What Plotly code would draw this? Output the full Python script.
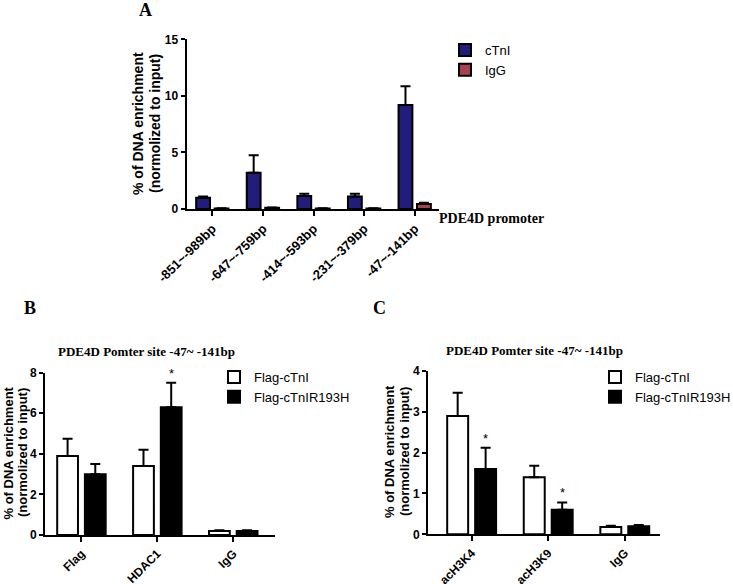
import plotly.graph_objects as go

# ---- data ----
sites_a = ["-851~-989bp", "-647~-759bp", "-414~-593bp", "-231~-379bp", "-47~-141bp"]
ctni_a = [1.0, 3.2, 1.15, 1.1, 9.2]
ctni_a_err = [0.1, 1.55, 0.2, 0.25, 1.65]
igg_a = [0.05, 0.1, 0.05, 0.05, 0.45]
igg_a_err = [0.02, 0.03, 0.02, 0.02, 0.1]

cats_b = ["Flag", "HDAC1", "IgG"]
wt_b = [3.9, 3.4, 0.2]
wt_b_err = [0.85, 0.8, 0.04]
mut_b = [3.0, 6.3, 0.2]
mut_b_err = [0.5, 1.2, 0.04]

cats_c = ["acH3K4", "acH3K9", "IgG"]
wt_c = [2.9, 1.4, 0.18]
wt_c_err = [0.57, 0.28, 0.03]
mut_c = [1.6, 0.6, 0.2]
mut_c_err = [0.52, 0.18, 0.03]

NAVY = "#221d7a"
RED = "#a9424f"
W, H = 733, 584

def px_x(p):
    return p / W

def px_y(p):
    return 1 - p / H

fig = go.Figure()

def eb(err):
    return dict(type="data", symmetric=False, array=err, arrayminus=[0] * len(err),
                color="black", thickness=2, width=5)

line = dict(color="black", width=2)

fig.add_trace(go.Bar(x=sites_a, y=ctni_a, name="cTnI", marker=dict(color=NAVY, line=line),
                     error_y=eb(ctni_a_err), xaxis="x", yaxis="y", legend="legend"))
fig.add_trace(go.Bar(x=sites_a, y=igg_a, name="IgG", marker=dict(color=RED, line=line),
                     error_y=eb(igg_a_err), xaxis="x", yaxis="y", legend="legend"))

fig.add_trace(go.Bar(x=cats_b, y=wt_b, name="Flag-cTnI", marker=dict(color="white", line=line),
                     error_y=eb(wt_b_err), xaxis="x2", yaxis="y2", legend="legend2"))
fig.add_trace(go.Bar(x=cats_b, y=mut_b, name="Flag-cTnIR193H", marker=dict(color="black", line=line),
                     error_y=eb(mut_b_err), xaxis="x2", yaxis="y2", legend="legend2"))

fig.add_trace(go.Bar(x=cats_c, y=wt_c, name="Flag-cTnI", marker=dict(color="white", line=line),
                     error_y=eb(wt_c_err), xaxis="x3", yaxis="y3", legend="legend3"))
fig.add_trace(go.Bar(x=cats_c, y=mut_c, name="Flag-cTnIR193H", marker=dict(color="black", line=line),
                     error_y=eb(mut_c_err), xaxis="x3", yaxis="y3", legend="legend3"))

SANS = "Liberation Sans, Arial"

def xax(domain, anchor, rng, fs):
    return dict(domain=domain, anchor=anchor, showline=True, linecolor="black", linewidth=2,
                ticks="outside", ticklen=5, tickwidth=1.5, tickcolor="black",
                tickangle=-45, tickfont=dict(family=SANS, size=fs, color="black", weight="bold"),
                showgrid=False, zeroline=False, automargin=False,
                range=rng, fixedrange=True)

def yax(domain, anchor, rng, dtick, fs):
    return dict(domain=domain, anchor=anchor, showline=True, linecolor="black", linewidth=2,
                ticks="outside", ticklen=4, tickwidth=1.5, tickcolor="black",
                tickfont=dict(family=SANS, size=fs, color="black", weight="bold"),
                showgrid=False, zeroline=False, range=rng, dtick=dtick, automargin=False,
                fixedrange=True)

legfont = dict(family=SANS, size=13, color="black")

fig.update_layout(
    width=W, height=H, margin=dict(l=0, r=0, t=0, b=0, autoexpand=False),
    paper_bgcolor="white", plot_bgcolor="white",
    barmode="group", bargap=0.27, bargroupgap=0.25,
    xaxis=xax([px_x(186.5), px_x(439)], "y", [-0.51, 4.48], 13),
    yaxis=yax([px_y(209), px_y(39.3)], "x", [0, 15], 5, 12),
    xaxis2=xax([px_x(45), px_x(275)], "y2", [-0.48, 2.55], 12),
    yaxis2=yax([px_y(535), px_y(372.7)], "x2", [0, 8], 2, 12),
    xaxis3=xax([px_x(428), px_x(660)], "y3", [-0.57, 2.46], 12),
    yaxis3=yax([px_y(534.3), px_y(371)], "x3", [0, 4], 1, 12),
    legend=dict(x=px_x(445), y=px_y(35), xanchor="left", yanchor="top", font=legfont,
                bgcolor="rgba(0,0,0,0)", tracegroupgap=0),
    legend2=dict(x=px_x(214), y=px_y(362), xanchor="left", yanchor="top", font=legfont,
                 bgcolor="rgba(0,0,0,0)", tracegroupgap=0),
    legend3=dict(x=px_x(595), y=px_y(362), xanchor="left", yanchor="top", font=legfont,
                 bgcolor="rgba(0,0,0,0)", tracegroupgap=0),
    showlegend=True,
)

serif = "Liberation Serif, Times New Roman"
ann = []

def pann(text, x, y, font, xanchor="center", angle=0):
    ann.append(dict(text=text, x=px_x(x), y=px_y(y), xref="paper", yref="paper",
                    xanchor=xanchor, yanchor="middle", showarrow=False, font=font,
                    textangle=angle))

letter_font = dict(family=serif, size=18, color="black")
pann("<b>A</b>", 145, 10, letter_font)
pann("<b>B</b>", 29.5, 308, letter_font)
pann("<b>C</b>", 379, 308, letter_font)
pann("<b>PDE4D promoter</b>", 437, 218, dict(family=serif, size=14, color="black"), xanchor="left")
ttl = dict(family=serif, size=13, color="black")
pann("<b>PDE4D Pomter site -47~ -141bp</b>", 146, 351, ttl)
pann("<b>PDE4D Pomter site -47~ -141bp</b>", 534, 350, ttl)

# y-axis titles (two lines each)
l1, l2 = "% of DNA enrichment", "(normolized to input)"
fa = dict(family=SANS, size=14, color="black", weight="bold")
fb = dict(family=SANS, size=13, color="black", weight="bold")
pann(l1, 138, 124, fa, angle=-90)
pann(l2, 155, 124, fa, angle=-90)
pann(l1, 7.5, 453, fb, angle=-90)
pann(l2, 22, 453, fb, angle=-90)
pann(l1, 389, 452, fb, angle=-90)
pann(l2, 404, 452, fb, angle=-90)

off = 0.365 / 2
star_font = dict(family=SANS, size=13, color="black")
for xr, yr, xi, yv in [("x2", "y2", 1, mut_b[1] + mut_b_err[1]),
                       ("x3", "y3", 0, mut_c[0] + mut_c_err[0]),
                       ("x3", "y3", 1, mut_c[1] + mut_c_err[1])]:
    ann.append(dict(text="*", x=xi + off, y=yv, xref=xr, yref=yr, yanchor="bottom",
                    showarrow=False, font=star_font, yshift=0))

fig.update_layout(annotations=ann)
fig.write_html("out.html", config={"displayModeBar": False},
               post_script="document.body.style.margin='0px';")
